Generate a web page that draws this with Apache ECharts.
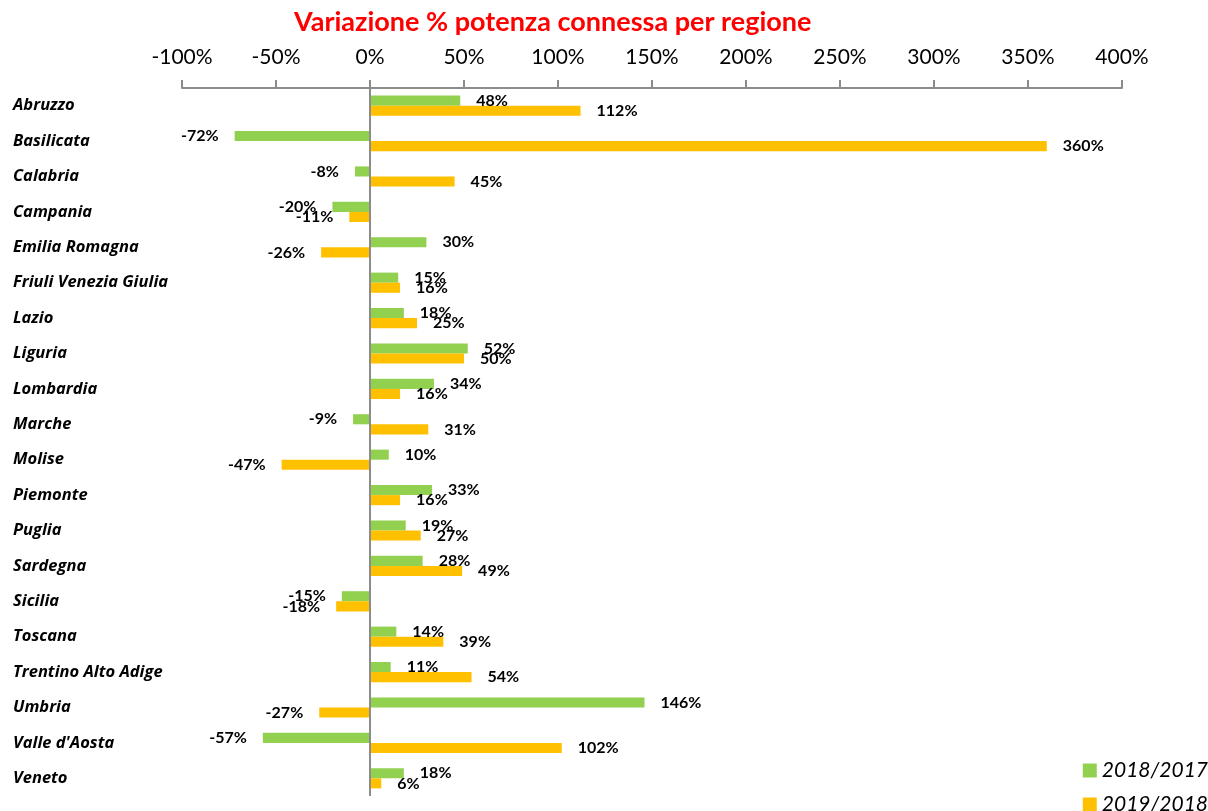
<!DOCTYPE html>
<html>
<head>
<meta charset="utf-8">
<script src="https://cdn.jsdelivr.net/npm/echarts@6/dist/echarts.min.js"></script>
<style>
  html, body { margin: 0; padding: 0; background: #fff; }
  #chart { width: 1208px; height: 811px; }
</style>
</head>
<body>
<div id="chart"></div>
<script>
// Regions, top to bottom
const regions = [
    'Abruzzo', 'Basilicata', 'Calabria', 'Campania', 'Emilia Romagna',
    'Friuli Venezia Giulia', 'Lazio', 'Liguria', 'Lombardia', 'Marche',
    'Molise', 'Piemonte', 'Puglia', 'Sardegna', 'Sicilia',
    'Toscana', 'Trentino Alto Adige', 'Umbria', "Valle d'Aosta", 'Veneto'
];

// Percent change values
const var2018 = [48, -72, -8, -20, 30, 15, 18, 52, 34, -9, 10, 33, 19, 28, -15, 14, 11, 146, -57, 18];
const var2019 = [112, 360, 45, -11, -26, 16, 25, 50, 16, 31, -47, 16, 27, 49, -18, 39, 54, -27, 102, 6];

const seriesNames = ['2018/2017', '2019/2018'];
const xTicks = { min: -100, max: 400, step: 50 };

const font = 'Lato, "Open Sans", sans-serif';

const chart = echarts.init(document.querySelector('#chart'));

// Builds the data points with label on the outer end of each bar
function toPoints(values) {
    return values.map((v) => ({
        value: v,
        label: { position: v < 0 ? 'left' : 'right' }
    }));
}

const labelStyle = {
    show: true,
    distance: 16,
    fontFamily: font,
    fontWeight: 'bold',
    fontSize: 16,
    color: '#000',
    formatter: (p) => p.value + '%'
};

const option = {
    animation: false,
    title: {
        text: 'Variazione % potenza connessa per regione',
        left: 289,
        top: 4,
        textStyle: { color: '#ff0000', fontFamily: font, fontWeight: 'bold', fontSize: 27 }
    },
    legend: {
        orient: 'vertical',
        right: -5,
        bottom: -9,
        itemWidth: 14,
        itemHeight: 14,
        itemGap: 13,
        icon: 'rect',
        data: seriesNames,
        textStyle: { fontFamily: font, fontStyle: 'italic', fontSize: 21, color: '#000' }
    },
    grid: { left: 182, right: 86, top: 88, bottom: 15 },
    xAxis: {
        type: 'value',
        position: 'top',
        min: xTicks.min,
        max: xTicks.max,
        interval: xTicks.step,
        axisLine: { show: true, lineStyle: { color: '#8c8c8c', width: 2 } },
        axisTick: { show: true, length: 8, lineStyle: { color: '#8c8c8c', width: 2 } },
        splitLine: { show: false },
        axisLabel: {
            margin: 20,
            fontFamily: font,
            fontSize: 21,
            color: '#000',
            formatter: (v) => v + '%'
        }
    },
    yAxis: {
        type: 'category',
        data: regions,
        inverse: true,
        axisLine: { show: false },
        axisTick: { show: false },
        axisLabel: {
            align: 'left',
            margin: 169,
            padding: [8, 0, 0, 0],
            fontFamily: '"Open Sans", Lato, sans-serif',
            fontStyle: 'italic',
            fontWeight: 'bold',
            fontSize: 16.5,
            color: '#000'
        }
    },
    series: [
        {
            name: seriesNames[0],
            type: 'bar',
            data: toPoints(var2018),
            barGap: '0%',
            barCategoryGap: '43%',
            itemStyle: { color: '#92D050' },
            label: labelStyle,
            markLine: {
                silent: true,
                symbol: 'none',
                label: { show: false },
                lineStyle: { color: '#8c8c8c', width: 2, type: 'solid' },
                data: [{ xAxis: 0 }]
            }
        },
        {
            name: seriesNames[1],
            type: 'bar',
            data: toPoints(var2019),
            barGap: '0%',
            barCategoryGap: '43%',
            itemStyle: { color: '#FFC000' },
            label: labelStyle
        }
    ]
};

chart.setOption(option);
</script>
</body>
</html>
